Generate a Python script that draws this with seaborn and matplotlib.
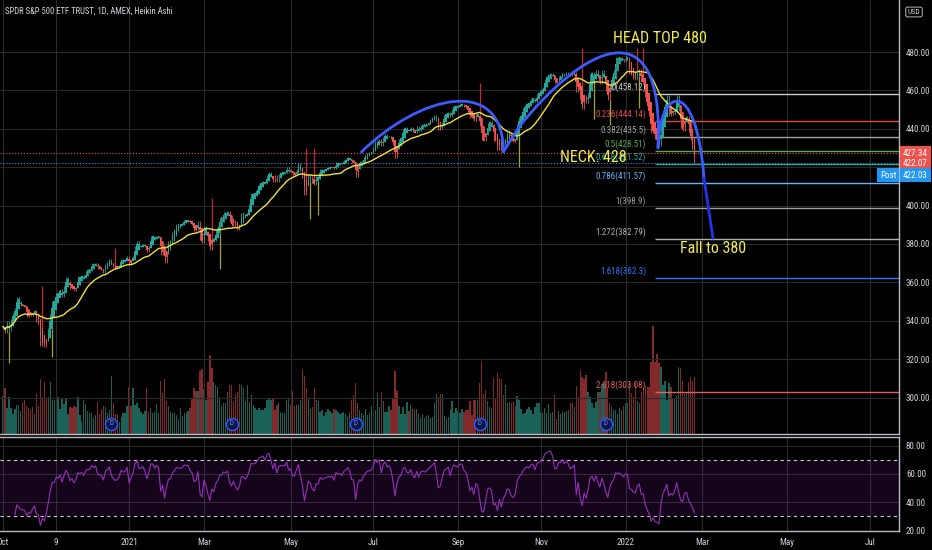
import numpy as np
import pandas as pd
import matplotlib
matplotlib.use("Agg")
import matplotlib.pyplot as plt
import seaborn as sns
from matplotlib.path import Path
from matplotlib.patches import PathPatch
from matplotlib import font_manager

# ---- datos (SPY diario) ----
holidays = ["2020-11-26", "2020-12-25", "2021-01-01", "2021-01-18", "2021-02-15",
            "2021-04-02", "2021-05-31", "2021-07-05", "2021-09-06", "2021-11-25",
            "2021-12-24", "2022-01-17", "2022-02-21", "2022-04-15", "2022-05-30",
            "2022-06-20", "2022-07-04"]

close_2020 = [337.0, 333.8, 339.8, 334.9, 340.8, 343.8, 346.8, 352.4, 350.1, 347.9, 347.5,
              347.3, 342.0, 343.4, 342.7, 344.6, 345.8, 339.4, 338.2, 326.7, 330.0, 326.5,
              330.2, 336.0, 343.5, 350.2, 350.2, 354.6, 354.0, 356.7, 352.2, 358.1,
              362.6, 360.6, 356.3, 357.8, 355.3, 357.5, 363.2, 362.7, 363.7, 362.1,
              366.0, 366.8, 366.7, 369.9, 369.1, 370.2, 366.9, 366.7, 366.3, 364.7, 369.6,
              370.2, 372.2, 369.2, 367.9, 367.2, 367.6, 369.0, 372.2, 371.5, 372.0, 373.9]
close_2021a = [368.8, 371.3, 373.6, 379.1, 381.3, 378.7, 378.8, 379.8, 378.5, 375.7,
               378.7, 384.2, 384.2, 382.9, 384.4, 383.8, 374.4, 377.6, 370.1,
               376.2, 381.6, 381.9, 386.2, 387.7, 390.5, 390.3, 390.1, 390.7, 392.6,
               392.3, 392.4, 390.7, 390.0, 387.0, 387.5, 391.8, 382.3, 380.4,
               389.6, 386.6, 381.4, 376.7, 383.6, 381.7, 387.2, 389.6, 393.5, 394.1, 396.4,
               395.9, 397.3, 391.5, 389.5, 392.6, 389.5, 387.5, 389.7, 396.0, 395.8, 394.7, 396.3,
               400.6, 406.4, 406.1, 406.6, 408.5, 411.5, 411.6, 412.9, 411.5, 415.9, 417.3,
               415.2, 412.2, 416.1, 412.3, 416.7, 417.6, 417.5, 417.4, 420.1, 417.3,
               418.2, 415.6, 415.8, 419.1, 422.1, 417.9, 414.2, 405.4, 410.3, 416.6,
               415.5, 411.9, 410.9, 415.3, 414.9, 419.2, 418.2, 419.1, 419.3, 420.0,
               419.7, 420.3, 418.8, 422.6, 422.2, 422.3, 421.7, 423.6, 424.3, 425.3, 424.5,
               422.1, 422.0, 414.9, 420.9, 423.1, 422.6, 425.1, 426.6, 427.5, 427.7, 428.1]
close_2021b = [430.4, 433.7, 432.9, 434.5, 430.9, 435.5, 437.1, 435.6, 436.2, 434.8, 431.3,
               425.0, 431.1, 434.6, 435.5, 439.9, 441.0, 439.0, 438.8, 440.7, 438.5,
               437.6, 441.2, 439.0, 441.8, 442.5, 442.1, 442.7, 443.8, 444.9, 445.9, 447.0,
               444.0, 439.2, 439.9, 443.4, 447.3, 448.0, 448.9, 446.3, 450.3, 452.2, 451.6,
               451.8, 453.2, 453.1, 451.5, 450.9, 449.0, 445.4, 446.6, 443.9, 447.9, 447.2,
               441.4, 434.0, 433.6, 437.9, 443.2, 443.9, 442.6, 433.7, 434.4, 429.1,
               434.2, 428.6, 433.1, 434.9, 438.7, 437.9, 434.1, 433.0, 434.7, 442.5, 445.9,
               447.2, 450.6, 452.4, 453.6, 453.1, 455.6, 456.0, 453.9, 458.3, 459.3,
               460.0, 461.9, 466.1, 467.4, 468.5, 468.9, 467.4, 463.6, 463.8, 467.3, 467.4,
               469.3, 468.1, 469.7, 468.9, 467.6, 468.2, 469.4, 459.0, 464.6, 455.6,
               450.5, 457.4, 453.4, 458.8, 468.3, 469.5, 466.4, 470.7, 466.6, 463.4, 470.6,
               466.5, 459.9, 455.0, 463.1, 467.7, 470.6, 477.3, 476.9, 477.5, 476.2, 475.0]
close_2022 = [477.7, 477.5, 468.4, 467.9, 466.1, 465.5, 469.8, 471.0, 464.5, 464.7,
              456.5, 451.8, 446.8, 438.0, 439.8, 434.5, 433.4, 431.2, 442.0, 449.9,
              453.0, 457.4, 446.6, 448.7, 447.3, 450.9, 457.5, 449.3, 440.5, 439.0,
              446.1, 446.6, 438.1, 434.2, 429.6, 422.0]

vol_2020 = [88, 108, 60, 85, 60, 47, 59, 67, 67, 53, 75, 80, 66, 60, 56, 63, 46, 92, 64, 128, 86, 122,
            81, 87, 120, 80, 80, 154, 85, 59, 82, 69, 82, 47, 63, 61, 65, 62, 86, 45, 28, 78,
            69, 54, 49, 49, 38, 45, 75, 47, 59, 64, 63, 48, 56, 136, 72, 47, 46, 27, 40, 50, 50, 65]
vol_2021a = [110, 66, 107, 68, 71, 61, 52, 46, 53, 108, 52, 61, 48, 52, 70, 50, 123, 95, 127,
             76, 65, 52, 48, 48, 45, 35, 60, 42, 50, 50, 53, 60, 83, 108, 99, 101, 147, 152,
             105, 80, 120, 183, 153, 122, 113, 109, 87, 64, 73, 73, 97, 115, 113, 75, 93, 97,
             117, 114, 108, 76, 113,
             75, 91, 67, 61, 56, 61, 57, 57, 60, 78, 82, 78, 81, 57, 67, 73, 51, 48, 50, 78, 84,
             68, 101, 66, 67, 67, 78, 150, 134, 106, 83, 59, 63, 106, 79, 77, 51, 57, 43, 52, 58,
             54, 49, 58, 56, 51, 47, 49, 51, 46, 43, 50, 80, 90, 118, 72, 57, 49, 45, 58, 45, 49, 64]
vol_2021b = [54, 57, 96, 62, 98, 76, 52, 52, 64, 55, 83, 147, 99, 64, 47, 63, 47, 75, 53, 68, 58,
             58, 58, 46, 38, 46, 38, 43, 44, 38, 39, 73, 92, 87, 92, 92, 41, 38, 40, 57, 77, 48, 60,
             54, 48, 58, 52, 57, 57, 77, 45, 78, 78, 80, 118, 167, 92, 102, 76, 62, 61, 131, 82, 141,
             130, 128, 90, 113, 73, 75, 72, 76, 65, 89, 79, 59, 47, 50, 58, 63, 57, 47, 63, 73, 71,
             51, 49, 61, 49, 69, 50, 51, 90, 35, 54, 47, 51, 51, 53, 57, 72, 73, 62, 112, 86, 148,
             132, 127, 137, 98, 86, 73, 61, 74, 98, 97, 116, 116, 144, 109, 72, 62, 57, 56, 47,
             61, 56, 65]
vol_2022 = [72, 71, 123, 96, 86, 119, 76, 71, 98, 109, 111, 110, 110, 167, 252, 168, 186, 165,
            157, 114,
            123, 78, 118, 109, 84, 82, 89, 155, 153, 124, 93, 98, 122, 133, 124, 132]

# mechas largas que se ven en el grafico (indice de vela, precio)
red_spike_idx = [20, 57, 106, 154, 158, 242, 294, 322, 325]
red_spike_top = [358, 378, 404, 430, 430, 464, 482, 482, 482]
olive_spike_idx = [3, 25, 110, 156, 160, 262, 300, 308, 323]
olive_spike_low = [318, 321, 367, 393, 395, 420, 445, 442, 451]

dividend_dates = ["2020-12-18", "2021-03-19", "2021-06-18", "2021-09-17", "2021-12-17"]

tick_dates = ["2020-10-01", "2020-11-09", "2021-01-04", "2021-03-01", "2021-05-03", "2021-07-01",
              "2021-09-01", "2021-11-01", "2022-01-03", "2022-03-01", "2022-05-02", "2022-07-01"]
tick_labels = ["Oct", "9", "2021", "Mar", "May", "Jul", "Sep", "Nov", "2022", "Mar", "May", "Jul"]

price_ticks = [300, 320, 340, 360, 380, 400, 420, 440, 460, 480]
rsi_ticks = [20, 40, 60, 80]

fib_ratios = ["0", "0.236", "0.382", "0.5", "0.618", "0.786", "1", "1.272", "1.618", "2.618"]
fib_prices = [458.12, 444.14, 435.5, 428.51, 421.52, 411.57, 398.9, 382.79, 362.3, 303.08]
fib_colors = ["#c8c8c8", "#e04848", "#9aa89a", "#4caf50", "#26a69a", "#64b5f6",
              "#9e9e9e", "#a8b4a8", "#2979ff", "#e06060"]
fib_start = 331

# dibujo cabeza-hombros (indice, precio)
left_shoulder = [(182, 428), (212, 458), (254, 468), (254, 428)]
neck_link = [(254, 428), (262, 441)]
head = [(262, 441), (292, 480), (336, 508), (332.5, 430)]
right_shoulder = [(332.5, 430), (333, 462), (352, 468), (355.8, 414.4)]
fall_end = (360.4, 383)

last_prices = [427.34, 422.07]
post_price = 422.03

# ---- calculos ----
closes = np.array(close_2020 + close_2021a + close_2021b + close_2022)
volumes = np.array(vol_2020 + vol_2021a + vol_2021b + vol_2022)
n = len(closes)
days = pd.bdate_range("2020-10-01", "2022-07-29", freq="C", holidays=holidays)
pos = {d: i for i, d in enumerate(days)}
idx = np.arange(n)

o_raw = np.r_[closes[0], closes[:-1]]
h_raw = np.maximum(o_raw, closes)
l_raw = np.minimum(o_raw, closes)
ha_close = (o_raw + h_raw + l_raw + closes) / 4
ha_open = np.zeros(n)
ha_open[0] = o_raw[0]
for i in range(1, n):
    ha_open[i] = (ha_open[i - 1] + ha_close[i - 1]) / 2
ha_high = np.maximum.reduce([h_raw, ha_open, ha_close])
ha_low = np.minimum.reduce([l_raw, ha_open, ha_close])
up = ha_close >= ha_open

ma20 = pd.Series(closes).rolling(20, min_periods=1).mean()
delta = pd.Series(closes).diff()
gain = delta.clip(lower=0).ewm(alpha=1 / 14, adjust=False, min_periods=6).mean()
loss = (-delta.clip(upper=0)).ewm(alpha=1 / 14, adjust=False, min_periods=6).mean()
rsi = 100 - 100 / (1 + gain / loss)

# ---- estilo ----
sns.set_theme(style="dark", rc={"axes.facecolor": "black", "figure.facecolor": "black",
                                "savefig.facecolor": "black", "text.color": "#d1d4dc",
                                "xtick.color": "#d1d4dc", "ytick.color": "#d1d4dc",
                                "patch.force_edgecolor": False})
names = {f.name for f in font_manager.fontManager.ttflist}
narrow = next((f for f in ["Liberation Sans Narrow", "Roboto Condensed", "Roboto"] if f in names),
              "DejaVu Sans")
plt.rcParams["font.family"] = [narrow, "DejaVu Sans"]

W, H = 932, 550
fig = plt.figure(figsize=(W / 100, H / 100), dpi=100)
ax = fig.add_axes([0, (H - 434) / H, 899 / W, 434 / H])
axv = ax.twinx()
ax_r = fig.add_axes([0, (H - 531) / H, 899 / W, 94 / H], sharex=ax)
ax.set_zorder(axv.get_zorder() + 1)
ax.patch.set_visible(False)
axv.patch.set_facecolor("black")

xmin, xmax = -3 / 1.97, 896 / 1.97
ax.set_xlim(xmin, xmax)
ax.set_ylim(281.0, 507.1)
axv.set_ylim(0, 1010)
ax_r.set_ylim(19.3, 86.4)

tick_idx = [pos[pd.Timestamp(d)] for d in tick_dates]
grid_c = "#2a2a2a"
for a in (ax, ax_r):
    for t in tick_idx:
        a.axvline(t, color=grid_c, lw=0.8, zorder=0)
for p in price_ticks:
    ax.axhline(p, color=grid_c, lw=0.8, zorder=0)
for p in rsi_ticks[1:]:
    ax_r.axhline(p, color=grid_c, lw=0.8, zorder=0)

# volumen
axv.bar(idx, volumes, width=0.7, color=np.where(up, "#1a6158", "#82292b"),
        edgecolor="none", linewidth=0, zorder=1)
axv.set_yticks([])
axv.set_xticks([])
for s in axv.spines.values():
    s.set_visible(False)

# velas heikin ashi
col = np.where(up, "#26a69a", "#ef5350")
ax.vlines(idx, ha_low, ha_high, colors=col, lw=0.6, zorder=3)
ax.bar(idx, np.maximum(np.abs(ha_close - ha_open), 0.3), bottom=np.minimum(ha_open, ha_close),
       width=0.8, color=col, edgecolor="none", linewidth=0, zorder=3)
ax.vlines(red_spike_idx, ha_high[red_spike_idx], red_spike_top, colors="#c62828", lw=0.9, zorder=3)
ax.vlines(olive_spike_idx, olive_spike_low, ha_low[olive_spike_idx], colors="#a5a033", lw=0.9, zorder=3)

sns.lineplot(x=idx, y=ma20.values, ax=ax, color="#f2e03a", lw=1.0, zorder=4)

# lineas de precio actual
ax.axhline(last_prices[0], color="#ef5350", lw=0.8, ls=":", zorder=2)
ax.axhline(post_price, color="#2196f3", lw=0.8, ls=":", zorder=2)

# fibonacci
ax.hlines(fib_prices, fib_start, xmax, colors=fib_colors, lw=1.0, zorder=2)
for r, p, c in zip(fib_ratios, fib_prices, fib_colors):
    ax.annotate(f"{r}({p})", xy=(326.5, p), xytext=(0, 1.5), textcoords="offset points",
                ha="right", va="bottom", fontsize=6.5, color=c, zorder=6)

# cabeza y hombros
blue = "#3b5bfd"
for pts in (left_shoulder, head, right_shoulder):
    pth = Path(pts, [Path.MOVETO, Path.CURVE4, Path.CURVE4, Path.CURVE4])
    ax.add_patch(PathPatch(pth, fill=False, edgecolor=blue, lw=2, zorder=5, capstyle="round"))
ax.plot([p[0] for p in neck_link], [p[1] for p in neck_link], color=blue, lw=2, zorder=5)
ax.plot([right_shoulder[-1][0], fall_end[0]], [right_shoulder[-1][1], fall_end[1]],
        color="#2233ee", lw=2, zorder=5)

yellow = "#f2ea4e"
ax.text(309.6, 487.3, "HEAD TOP 480", color=yellow, fontsize=11.5, va="center", ha="left", zorder=7)
ax.text(282.7, 424.8, "NECK: 428", color=yellow, fontsize=11.5, va="center", ha="left", zorder=7)
ax.text(343.7, 377.4, "Fall to 380", color=yellow, fontsize=11.5, va="center", ha="left", zorder=7)

# dividendos
div_idx = [pos[pd.Timestamp(d)] for d in dividend_dates]
ax.scatter(div_idx, [286.3] * len(div_idx), s=75, facecolor="#0c1647", edgecolor="#2f5cff",
           lw=1.0, zorder=6)
for d in div_idx:
    ax.text(d, 286.3, "D", color="#6f8dff", fontsize=5, ha="center", va="center", zorder=7)

# ejes precio
ax.yaxis.tick_right()
ax.set_yticks(price_ticks)
ax.set_yticklabels(["" if p == 420 else f"{p:.2f}" for p in price_ticks])
ax.tick_params(axis="y", length=0, pad=5, labelsize=6.5)
ax.tick_params(axis="x", length=0, labelbottom=False)
ax.set_xticks(tick_idx)
ax.set_xlabel("")
ax.set_ylabel("")
ax.grid(False)
for k, s in ax.spines.items():
    s.set_visible(k in ("bottom", "right"))
    s.set_color("#b8bbc4")
    s.set_linewidth(1.0)

# etiquetas de precio
for p in last_prices:
    ax.annotate(f"{p:.2f}", xy=(1, p), xycoords=("axes fraction", "data"), xytext=(3, 0),
                textcoords="offset points", ha="left", va="center", fontsize=6.5, color="white",
                bbox=dict(boxstyle="square,pad=0.3", fc="#ef5350", ec="none"),
                annotation_clip=False, zorder=8)
ax.annotate(f"{post_price:.2f}", xy=(1, post_price), xycoords=("axes fraction", "data"),
            xytext=(3, -8.6), textcoords="offset points", ha="left", va="center", fontsize=6.5,
            color="white", bbox=dict(boxstyle="square,pad=0.3", fc="#2196f3", ec="none"),
            annotation_clip=False, zorder=8)
ax.annotate("Post", xy=(1, post_price), xycoords=("axes fraction", "data"),
            xytext=(-2, -8.6), textcoords="offset points", ha="right", va="center", fontsize=6.5,
            color="white", bbox=dict(boxstyle="square,pad=0.3", fc="#2196f3", ec="none"),
            annotation_clip=False, zorder=8)

# rsi
ax_r.axhspan(30, 70, color="#7b1fa2", alpha=0.17, lw=0, zorder=0)
ax_r.axhline(70, color="#c9c9c9", lw=0.8, ls=(0, (3, 3)), zorder=1)
ax_r.axhline(30, color="#c9c9c9", lw=0.8, ls=(0, (3, 3)), zorder=1)
sns.lineplot(x=idx, y=rsi.values, ax=ax_r, color="#9430b8", lw=0.8, zorder=3)
ax_r.yaxis.tick_right()
ax_r.set_yticks(rsi_ticks)
ax_r.set_yticklabels([f"{t:.2f}" for t in rsi_ticks])
ax_r.set_xticks(tick_idx)
ax_r.set_xticklabels(tick_labels)
ax_r.tick_params(axis="both", length=0, labelsize=6.5)
ax_r.tick_params(axis="x", pad=5)
ax_r.tick_params(axis="y", pad=5)
ax_r.set_xlabel("")
ax_r.set_ylabel("")
ax_r.grid(False)
ax_r.set_xlim(xmin, xmax)
for k, s in ax_r.spines.items():
    s.set_visible(k in ("top", "bottom", "right"))
    s.set_color("#b8bbc4")
    s.set_linewidth(1.0)

fig.text(5 / W, 1 - 11 / H, "SPDR S&P 500 ETF TRUST, 1D, AMEX, Heikin Ashi", fontsize=6.2,
         color="#d1d4dc", va="center", ha="left")
fig.text(914 / W, 1 - 12 / H, "USD", fontsize=5.5, color="#d1d4dc", va="center", ha="center",
         bbox=dict(boxstyle="round,pad=0.25", fc="black", ec="#d1d4dc", lw=0.6))

fig.savefig("out.png", dpi=100, facecolor="black")
